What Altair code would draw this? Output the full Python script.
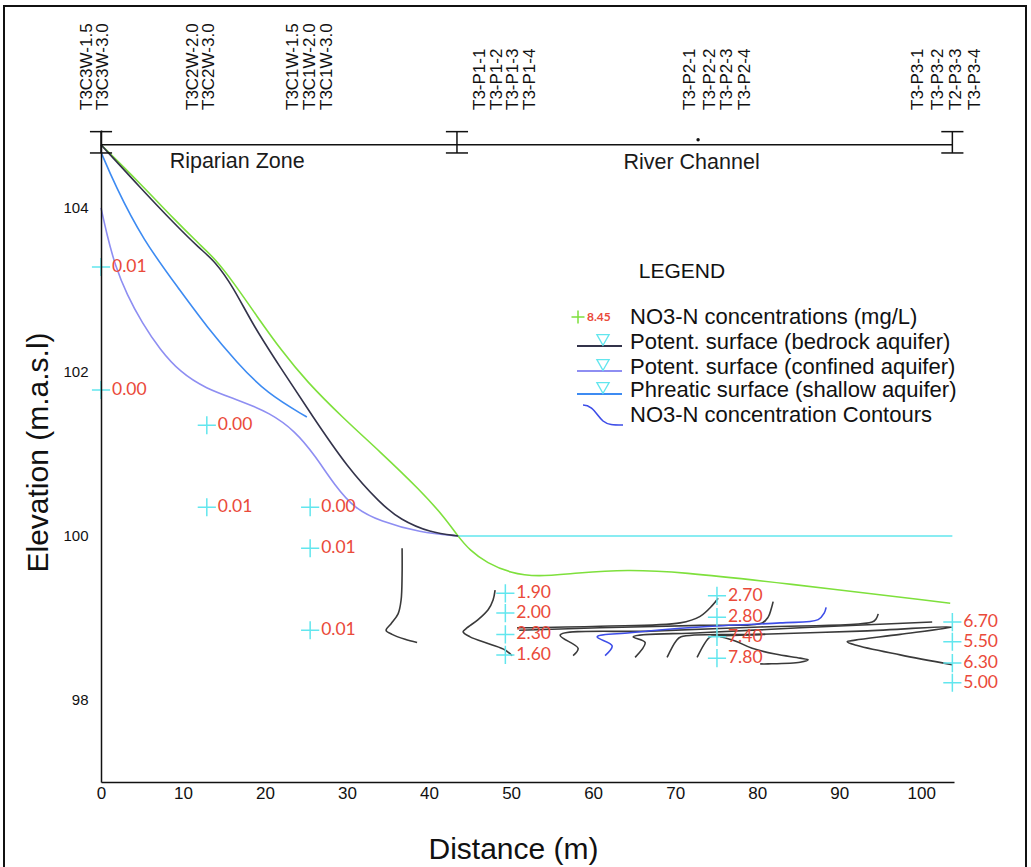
import altair as alt
import pandas as pd

# ---------------------------------------------------------------------------
# Sampling points along transect T3: distance (m), screen elevation (m a.s.l.)
# and measured NO3-N (mg/L)
# ---------------------------------------------------------------------------
obs_dist = [0.0, 0.0, 12.9, 12.9, 25.5, 25.5, 25.5,
            49.3, 49.3, 49.3, 49.3,
            75.1, 75.1, 75.1, 75.1,
            103.8, 103.8, 103.8, 103.8]
obs_elev = [103.28, 101.78, 101.35, 100.35, 100.35, 99.85, 98.85,
            99.30, 99.06, 98.80, 98.55,
            99.27, 99.01, 98.77, 98.51,
            98.95, 98.71, 98.45, 98.21]
obs_no3 = [0.01, 0.00, 0.00, 0.01, 0.00, 0.01, 0.01,
           1.90, 2.00, 2.30, 1.60,
           2.70, 2.80, 7.40, 7.80,
           6.70, 5.50, 6.30, 5.00]

# Well / piezometer names written above the section
well_names = ["T3C3W-1.5", "T3C3W-3.0", "T3C2W-2.0", "T3C2W-3.0",
              "T3C1W-1.5", "T3C1W-2.0", "T3C1W-3.0",
              "T3-P1-1", "T3-P1-2", "T3-P1-3", "T3-P1-4",
              "T3-P2-1", "T3-P2-2", "T3-P2-3", "T3-P2-4",
              "T3-P3-1", "T3-P3-2", "T2-P3-3", "T3-P3-4"]
well_name_x = [-1.7, 0.2, 11.2, 13.2, 23.4, 25.5, 27.6,
               46.2, 48.3, 50.2, 52.3,
               71.8, 74.2, 76.3, 78.5,
               99.6, 102.0, 104.3, 106.6]

# ---------------------------------------------------------------------------
# Surfaces
# ---------------------------------------------------------------------------
ground_x = [0.0, 4.76, 9.02, 12.07, 13.9, 16.1, 19.0, 22.0, 25.1, 29.5, 34.0,
            38.9, 41.95, 43.41, 45.0, 47.07, 49.88, 53.17, 58.05, 64.15,
            70.61, 82.8, 103.54]
ground_y = [104.77, 104.30, 103.85, 103.55, 103.38, 103.10, 102.68, 102.26,
            101.88, 101.44, 101.03, 100.56, 100.22, 100.01, 99.82, 99.67,
            99.55, 99.50, 99.55, 99.59, 99.56, 99.43, 99.18]

bedrock_x = [0.0, 4.76, 9.02, 12.07, 13.9, 16.1, 18.54, 21.83, 25.85, 30.0,
             34.02, 36.46, 40.12, 43.54]
bedrock_y = [104.77, 104.25, 103.80, 103.50, 103.35, 103.04, 102.57, 102.06,
             101.45, 100.84, 100.40, 100.20, 100.04, 100.0]

confined_x = [0.0, 0.73, 1.71, 3.17, 5.0, 7.2, 9.63, 12.68, 16.95, 20.61,
              23.66, 26.1, 28.54, 30.98, 34.02, 38.9, 43.54]
confined_y = [104.0, 103.67, 103.30, 102.94, 102.60, 102.27, 102.0, 101.80,
              101.65, 101.50, 101.28, 100.98, 100.61, 100.33, 100.18, 100.04,
              100.0]

phreatic_x = [0.0, 1.7, 5.1, 9.6, 12.9, 16.6, 20.2, 25.1]
phreatic_y = [104.68, 104.28, 103.61, 103.0, 102.55, 102.11, 101.74, 101.45]

river_x = [43.54, 103.8]
river_y = [100.0, 100.0]

# ---------------------------------------------------------------------------
# NO3-N concentration contours (x in m, y in m a.s.l.)
# ---------------------------------------------------------------------------
contour_lines = {
    "c1": ([36.71, 36.71, 36.59, 36.22, 35.37, 34.76, 35.49, 37.07, 38.54],
           [99.85, 99.52, 99.22, 99.05, 98.93, 98.85, 98.80, 98.74, 98.70]),
    "c2": ([48.05, 47.80, 47.20, 45.98, 44.51, 44.15, 45.0, 47.44, 49.27, 50.12],
           [99.34, 99.22, 99.10, 98.98, 98.87, 98.83, 98.77, 98.68, 98.61, 98.54]),
    "c3": ([50.73, 60.85, 70.61, 73.05, 74.51, 75.24],
           [98.88, 98.90, 98.94, 99.02, 99.15, 99.24]),
    "c4": ([50.98, 60.85, 73.05, 80.61, 81.34, 81.71, 81.95],
           [98.85, 98.88, 98.91, 98.94, 99.01, 99.11, 99.20]),
    "c5": ([57.56, 58.17, 55.98, 66.95, 80.37, 94.02, 94.51, 94.76],
           [98.54, 98.63, 98.79, 98.84, 98.89, 98.95, 98.99, 99.05]),
    "c6": ([65.12, 66.34, 64.88, 73.05, 85.24, 101.34],
           [98.52, 98.70, 98.77, 98.82, 98.88, 98.95]),
    "c7": ([69.02, 70.12, 70.73, 80.37, 92.56, 103.78, 97.44, 91.95, 90.98,
            91.95, 97.44, 103.78],
           [98.52, 98.72, 98.77, 98.80, 98.84, 98.89, 98.80, 98.73, 98.71,
            98.67, 98.55, 98.43]),
    "c8": ([72.68, 74.27, 75.12, 80.98],
           [98.52, 98.77, 98.78, 98.80]),
    "c9": ([75.49, 77.32, 79.39, 82.2, 85.24, 86.22, 85.24, 81.34, 80.37],
           [98.77, 98.72, 98.63, 98.56, 98.51, 98.49, 98.46, 98.44, 98.44]),
}
contour_blue_line = ([61.46, 62.32, 60.49, 64.51, 73.05, 82.8, 87.44, 88.17, 88.41],
                     [98.54, 98.66, 98.77, 98.82, 98.89, 98.94, 98.98, 99.06, 99.13])

# Section bar across the top of the profile
section_y = 104.77
section_ends = [0.0, 43.4, 103.8]
section_names = ["Riparian Zone", "River Channel"]
section_name_x = [16.6, 72.0]
section_name_y = [104.56, 104.55]

legend_labels = ["NO3-N concentrations (mg/L)",
                 "Potent. surface (bedrock aquifer)",
                 "Potent. surface (confined aquifer)",
                 "Phreatic surface (shallow aquifer)",
                 "NO3-N concentration Contours"]

# ---------------------------------------------------------------------------
# Styles
# ---------------------------------------------------------------------------
GREEN = "#7ee03c"
BEDROCK = "#33334a"
CONFINED = "#8e8ef2"
PHREATIC = "#3d8bf2"
CYAN = "#62e6ee"
RED = "#ea4a3a"
CONTOUR = "#3a3a3a"
CONTOUR_BLUE = "#3d4de8"
FONT = "Liberation Sans"
PLUS = "M-1,0L1,0M0,-1L0,1"

W, H = 853, 652
x_scale = alt.Scale(domain=[0, 104], nice=False, zero=False)
y_scale = alt.Scale(domain=[97, 104.95], nice=False, zero=False)

x_axis = alt.Axis(values=list(range(0, 101, 10)), title="Distance (m)",
                  ticks=False, tickSize=0, grid=False,
                  domainColor="#111111", domainWidth=1.5,
                  labelFont="'Liberation Sans Narrow', 'Liberation Sans'",
                  labelFontSize=17, labelColor="#111111", labelPadding=11,
                  labelBaseline="middle", labelFlush=False, labelOverlap=False,
                  titleFont=FONT, titleFontSize=30, titleFontWeight="normal",
                  titleColor="#111111", titleX=412, titleY=76,
                  titleBaseline="alphabetic", titleAlign="center", zindex=1)
y_axis = alt.Axis(values=[98, 100, 102, 104], title="Elevation (m.a.s.l)",
                  ticks=False, tickSize=0, grid=False,
                  domainColor="#111111", domainWidth=1.5,
                  labelFont=FONT, labelFontSize=15, labelColor="#111111",
                  labelPadding=13,
                  titleFont=FONT, titleFontSize=30, titleFontWeight="normal",
                  titleColor="#111111", titleX=-63, titleY=322,
                  titleAlign="center", titleBaseline="middle", zindex=1)


def X(field="x"):
    return alt.X(f"{field}:Q", scale=x_scale, axis=x_axis)


def Y(field="y"):
    return alt.Y(f"{field}:Q", scale=y_scale, axis=y_axis)


def lines_frame(named):
    rows = []
    for name, (xs, ys, col) in named.items():
        for i, (xv, yv) in enumerate(zip(xs, ys)):
            rows.append({"name": name, "i": i, "x": xv, "y": yv, "col": col})
    return pd.DataFrame(rows)


one = pd.DataFrame({"a": [0]})

# ---- water level in the river
river = alt.Chart(pd.DataFrame({"x": river_x, "y": river_y})).mark_line(
    color=CYAN, strokeWidth=1.5).encode(x=X(), y=Y())

# ---- ground / potentiometric / phreatic surfaces
surf_df = lines_frame({
    "ground": (ground_x, ground_y, GREEN),
    "confined": (confined_x, confined_y, CONFINED),
    "phreatic": (phreatic_x, phreatic_y, PHREATIC),
    "bedrock": (bedrock_x, bedrock_y, BEDROCK),
})
surfaces = alt.Chart(surf_df).mark_line(
    interpolate="basis", strokeWidth=1.6).encode(
    x=X(), y=Y(), color=alt.Color("col:N", scale=None),
    detail="name:N", order="i:Q")

# ---- concentration contours
cont = {k: (v[0], v[1], CONTOUR) for k, v in contour_lines.items()}
cont["blue"] = (contour_blue_line[0], contour_blue_line[1], CONTOUR_BLUE)
contours = alt.Chart(lines_frame(cont)).mark_line(
    interpolate="catmull-rom", strokeWidth=1.6).encode(
    x=X(), y=Y(), color=alt.Color("col:N", scale=None),
    detail="name:N", order="i:Q")

# ---- section bar with end markers
bar_df = pd.DataFrame({"x": [section_ends[0]], "x2": [section_ends[-1]],
                       "y": [section_y]})
bar = alt.Chart(bar_df).mark_rule(color="#111111", strokeWidth=1.5).encode(
    x=X(), x2="x2:Q", y=Y())
cap_half = 1.35
ends_df = pd.DataFrame({"x": section_ends, "yb": 104.67, "yt": 104.93})
ends_df["xl"] = ends_df["x"] - cap_half
ends_df["xr"] = ends_df["x"] + cap_half
end_stems = alt.Chart(ends_df).mark_rule(color="#111111", strokeWidth=1.5).encode(
    x=X(), y=Y("yb"), y2="yt:Q")
end_caps_b = alt.Chart(ends_df).mark_rule(color="#111111", strokeWidth=1.5).encode(
    x=X("xl"), x2="xr:Q", y=Y("yb"))
end_caps_t = alt.Chart(ends_df).mark_rule(color="#111111", strokeWidth=1.5).encode(
    x=X("xl"), x2="xr:Q", y=Y("yt"))
dot = alt.Chart(pd.DataFrame({"x": [72.8], "y": [104.83]})).mark_circle(
    size=12, color="#111111", opacity=1).encode(x=X(), y=Y())
sect_text = alt.Chart(pd.DataFrame({"x": section_name_x, "y": section_name_y,
                                    "t": section_names})).mark_text(
    font=FONT, fontSize=21.5, color="#1a1a1a").encode(x=X(), y=Y(), text="t:N")

# ---- well names (rotated)
names = alt.Chart(pd.DataFrame({"x": well_name_x, "t": well_names})).mark_text(
    angle=270, align="left", baseline="middle", font=FONT, fontSize=17,
    color="#111111").encode(x=X(), y=alt.value(-20), text="t:N")

# ---- sampling points and their NO3-N values
obs_df = pd.DataFrame({"x": obs_dist, "y": obs_elev, "no3": obs_no3})
pts = alt.Chart(obs_df).mark_point(
    shape=PLUS, size=330, filled=False, strokeWidth=1.5, color=CYAN,
    opacity=1).encode(x=X(), y=Y())
vals = alt.Chart(obs_df).mark_text(
    align="left", baseline="middle", dx=11, font="Lato", fontSize=17.5,
    color=RED).encode(x=X(), y=Y(), text=alt.Text("no3:Q", format=".2f"))

# ---- legend block
row_y = [187, 212, 237, 260, 285]
text_x = 529
glyph_x = 502
legend_layers = [
    alt.Chart(one).mark_text(text="LEGEND", font=FONT, fontSize=21,
                             color="#111111").encode(
        x=alt.value(581), y=alt.value(142)),
    alt.Chart(one).mark_point(shape=PLUS, size=170, filled=False,
                              strokeWidth=1.5, color=GREEN, opacity=1).encode(
        x=alt.value(477), y=alt.value(row_y[0])),
    alt.Chart(one).mark_text(text="8.45", font="Lato", fontSize=12,
                             fontWeight="bold", color=RED, align="left",
                             baseline="middle").encode(
        x=alt.value(486), y=alt.value(row_y[0])),
]
for ry, col in zip(row_y[1:4], [BEDROCK, CONFINED, PHREATIC]):
    legend_layers.append(
        alt.Chart(one).mark_rule(color=col, strokeWidth=1.8).encode(
            x=alt.value(476), x2=alt.value(521), y=alt.value(ry + 4)))
    legend_layers.append(
        alt.Chart(one).mark_point(shape="triangle-down", size=150, filled=False,
                                  strokeWidth=1.3, color=CYAN, opacity=1).encode(
            x=alt.value(glyph_x), y=alt.value(ry - 2)))
legend_layers.append(
    alt.Chart(one).mark_point(
        shape="M-1,-0.5C-0.5,-0.5 -0.3,0.05 0,0.3C0.25,0.5 0.5,0.5 1,0.5",
        size=1600, filled=False, strokeWidth=1.6, color=CONTOUR_BLUE,
        opacity=1).encode(x=alt.value(glyph_x), y=alt.value(row_y[4])))
for ry, lab in zip(row_y, legend_labels):
    legend_layers.append(
        alt.Chart(one).mark_text(text=lab, font=FONT, fontSize=22,
                                 color="#111111", align="left",
                                 baseline="middle").encode(
            x=alt.value(text_x), y=alt.value(ry)))

# ---- figure frame
frame = alt.Chart(one).mark_rect(fillOpacity=0, stroke="#111111",
                                 strokeWidth=2).encode(
    x=alt.value(-97), x2=alt.value(925), y=alt.value(-124), y2=alt.value(750))

chart = alt.layer(
    river, surfaces, contours, bar, end_stems, end_caps_b, end_caps_t, dot,
    sect_text, names, pts, vals, *legend_layers, frame
).properties(
    width=W, height=H,
    padding={"left": 101, "top": 130, "right": 77, "bottom": 85},
    autosize=alt.AutoSizeParams(type="none"),
    background="white",
).configure_view(stroke=None)

chart.save("out.html", embed_options={"renderer": "svg", "actions": False})
